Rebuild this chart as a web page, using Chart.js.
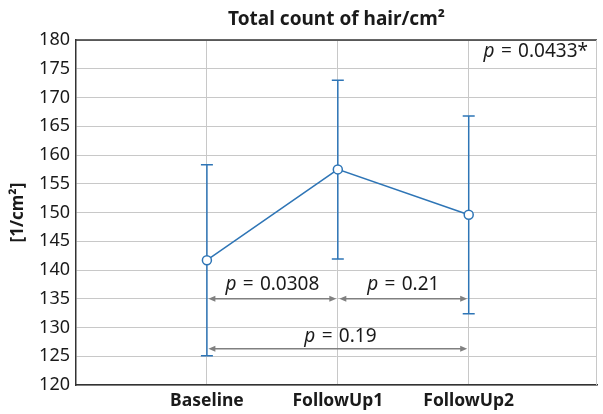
<!DOCTYPE html>
<html>
<head>
<meta charset="utf-8">
<script src="https://cdn.jsdelivr.net/npm/chart.js@4"></script>
<style>
  html, body { margin: 0; padding: 0; background: #fff; }
  #wrap { width: 603px; height: 414px; }
</style>
</head>
<body>
<div id="wrap"><canvas id="myChart" width="603" height="414"></canvas></div>
<script>
var categories = ["Baseline", "FollowUp1", "FollowUp2"];
var means = [141.7, 157.5, 149.6];
var errLow = [125.1, 141.9, 132.4];
var errHigh = [158.3, 173.0, 166.8];
var yTicks = [120, 125, 130, 135, 140, 145, 150, 155, 160, 165, 170, 175, 180];

// p-value brackets: from category, to category, y value of arrow, label pos
var brFrom = [0, 1, 0];
var brTo = [1, 2, 2];
var brY = [135, 135, 126.3];
var brText = ["0.0308", "0.21", "0.19"];
var brTextX = [0.5, 1.5, 1.02];
var brTextY = [137.4, 137.4, 128.4];
var overallP = "0.0433*";

var blue = "#2e75b6";
var gridGray = "#c8c8c8";
var fontFam = "'Noto Sans', sans-serif";

function drawPText(ctx, txt, cx, cy, align) {
    ctx.font = "italic 19px " + fontFam;
    var w1 = ctx.measureText("p").width;
    ctx.font = "19px " + fontFam;
    var rest = "\u2004=\u2004" + txt;
    var w2 = ctx.measureText(rest).width;
    var x0 = align === "right" ? cx - w1 - w2 : cx - (w1 + w2) / 2;
    ctx.textAlign = "left";
    ctx.textBaseline = "middle";
    ctx.fillStyle = "#1a1a1a";
    ctx.font = "italic 19px " + fontFam;
    ctx.fillText("p", x0, cy);
    ctx.font = "19px " + fontFam;
    ctx.fillText(rest, x0 + w1, cy);
}

function arrowHead(ctx, x, y, dir) {
    ctx.beginPath();
    ctx.moveTo(x, y);
    ctx.lineTo(x - dir * 7, y - 3);
    ctx.lineTo(x - dir * 7, y + 3);
    ctx.closePath();
    ctx.fill();
}

var extras = {
    id: "extras",
    beforeDatasetsDraw: function(chart) {
        var ctx = chart.ctx, xs = chart.scales.x, ys = chart.scales.y, a = chart.chartArea;
        ctx.save();
        // frame: top dark, right light
        ctx.strokeStyle = "#333";
        ctx.lineWidth = 1.5;
        ctx.beginPath();
        ctx.moveTo(a.left, a.top);
        ctx.lineTo(a.right, a.top);
        ctx.stroke();
        ctx.strokeStyle = gridGray;
        ctx.lineWidth = 1;
        ctx.beginPath();
        ctx.moveTo(a.right - 0.5, a.top);
        ctx.lineTo(a.right - 0.5, a.bottom);
        ctx.stroke();
        // error bars
        ctx.strokeStyle = blue;
        ctx.lineWidth = 1.5;
        for (var i = 0; i < categories.length; i++) {
            var x = xs.getPixelForValue(i);
            var yl = ys.getPixelForValue(errLow[i]);
            var yh = ys.getPixelForValue(errHigh[i]);
            ctx.beginPath();
            ctx.moveTo(x, yl); ctx.lineTo(x, yh);
            ctx.moveTo(x - 6, yl); ctx.lineTo(x + 6, yl);
            ctx.moveTo(x - 6, yh); ctx.lineTo(x + 6, yh);
            ctx.stroke();
        }
        ctx.restore();
    },
    afterDatasetsDraw: function(chart) {
        var ctx = chart.ctx, xs = chart.scales.x, ys = chart.scales.y, a = chart.chartArea;
        ctx.save();
        ctx.strokeStyle = "#808080";
        ctx.fillStyle = "#808080";
        ctx.lineWidth = 1.5;
        for (var i = 0; i < brFrom.length; i++) {
            var x1 = xs.getPixelForValue(brFrom[i]) + 1.5;
            var x2 = xs.getPixelForValue(brTo[i]) - 1.5;
            var y = ys.getPixelForValue(brY[i]);
            ctx.beginPath();
            ctx.moveTo(x1 + 4, y); ctx.lineTo(x2 - 4, y);
            ctx.stroke();
            arrowHead(ctx, x1, y, -1);
            arrowHead(ctx, x2, y, 1);
        }
        for (var j = 0; j < brText.length; j++) {
            drawPText(ctx, brText[j], xs.getPixelForValue(brTextX[j]), ys.getPixelForValue(brTextY[j]), "center");
        }
        drawPText(ctx, overallP, a.right - 9, ys.getPixelForValue(177.9), "right");
        ctx.restore();
    }
};

function showChart() {
    var pts = categories.map(function(c, i) { return { x: i, y: means[i] }; });

    new Chart("myChart", {
        type: "line",
        data: {
            datasets: [{
                data: pts,
                borderColor: blue,
                borderWidth: 1.5,
                pointBackgroundColor: "#fff",
                pointBorderColor: blue,
                pointBorderWidth: 1.5,
                pointRadius: 4.5,
                tension: 0
            }]
        },
        options: {
            responsive: false,
            animation: false,
            layout: { padding: { right: 2, left: 0, top: 0, bottom: 0 } },
            plugins: {
                legend: { display: false },
                tooltip: { enabled: false },
                title: {
                    display: true,
                    fullSize: false,
                    text: "Total count of hair/cm\u00B2",
                    color: "#1a1a1a",
                    font: { family: fontFam, size: 19, weight: "bold", lineHeight: 1.2 },
                    padding: { top: 8, bottom: 9.2 }
                }
            },
            scales: {
                x: {
                    type: "linear",
                    min: -1,
                    max: 2.98,
                    afterBuildTicks: function(axis) {
                        axis.ticks = categories.map(function(c, i) { return { value: i }; });
                    },
                    afterFit: function(axis) { axis.height = 29; },
                    ticks: {
                        callback: function(v) { return categories[v]; },
                        color: "#1a1a1a",
                        padding: 6,
                        font: { family: fontFam, size: 17.5, weight: "bold" },
                        maxRotation: 0,
                        autoSkip: false
                    },
                    grid: { color: gridGray, drawTicks: false },
                    border: { color: "#333", width: 1.5 }
                },
                y: {
                    min: 120,
                    max: 180,
                    afterBuildTicks: function(axis) {
                        axis.ticks = yTicks.map(function(v) { return { value: v }; });
                    },
                    afterFit: function(axis) { axis.width = 76; },
                    ticks: {
                        color: "#1a1a1a",
                        padding: 6,
                        font: { family: fontFam, size: 18 }
                    },
                    grid: { color: gridGray, drawTicks: false },
                    border: { color: "#333", width: 1.5 },
                    title: {
                        display: true,
                        text: "[1/cm\u00B2]",
                        color: "#1a1a1a",
                        font: { family: fontFam, size: 17, weight: "bold", lineHeight: 1.2 },
                        padding: { top: 8, bottom: 0 }
                    }
                }
            }
        },
        plugins: [extras]
    });
}

function loadItems() {
    showChart();
}

window.addEventListener("load", loadItems);
</script>
</body>
</html>
